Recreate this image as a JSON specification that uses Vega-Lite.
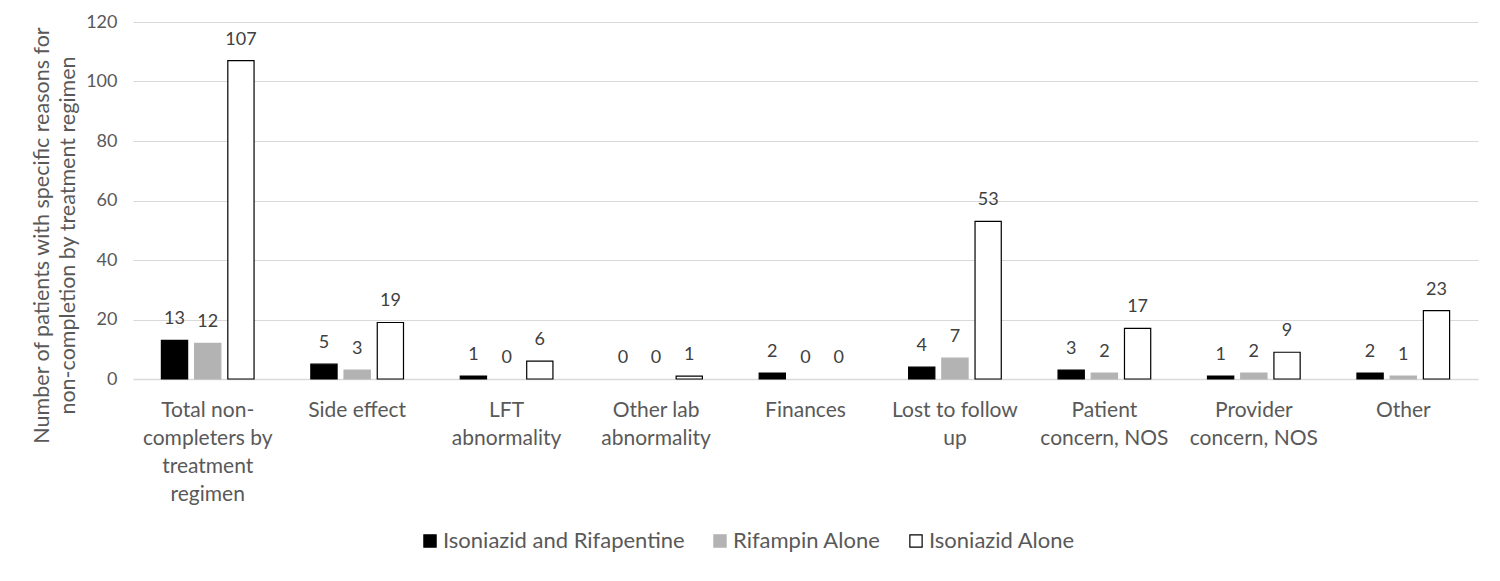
{
  "$schema": "https://vega.github.io/schema/vega-lite/v6.json",
  "autosize": {"type": "none"},
  "padding": {"left": 133, "top": 22, "right": 22, "bottom": 202},
  "width": 1345,
  "height": 357,
  "background": "white",
  "config": {
    "font": "Lato",
    "view": {"stroke": null}
  },
  "data": {
    "values": [
      {"reason": "Total non-completers by treatment regimen", "regimen": "Isoniazid and Rifapentine", "count": 13},
      {"reason": "Total non-completers by treatment regimen", "regimen": "Rifampin Alone", "count": 12},
      {"reason": "Total non-completers by treatment regimen", "regimen": "Isoniazid Alone", "count": 107},
      {"reason": "Side effect", "regimen": "Isoniazid and Rifapentine", "count": 5},
      {"reason": "Side effect", "regimen": "Rifampin Alone", "count": 3},
      {"reason": "Side effect", "regimen": "Isoniazid Alone", "count": 19},
      {"reason": "LFT abnormality", "regimen": "Isoniazid and Rifapentine", "count": 1},
      {"reason": "LFT abnormality", "regimen": "Rifampin Alone", "count": 0},
      {"reason": "LFT abnormality", "regimen": "Isoniazid Alone", "count": 6},
      {"reason": "Other lab abnormality", "regimen": "Isoniazid and Rifapentine", "count": 0},
      {"reason": "Other lab abnormality", "regimen": "Rifampin Alone", "count": 0},
      {"reason": "Other lab abnormality", "regimen": "Isoniazid Alone", "count": 1},
      {"reason": "Finances", "regimen": "Isoniazid and Rifapentine", "count": 2},
      {"reason": "Finances", "regimen": "Rifampin Alone", "count": 0},
      {"reason": "Finances", "regimen": "Isoniazid Alone", "count": 0},
      {"reason": "Lost to follow up", "regimen": "Isoniazid and Rifapentine", "count": 4},
      {"reason": "Lost to follow up", "regimen": "Rifampin Alone", "count": 7},
      {"reason": "Lost to follow up", "regimen": "Isoniazid Alone", "count": 53},
      {"reason": "Patient concern, NOS", "regimen": "Isoniazid and Rifapentine", "count": 3},
      {"reason": "Patient concern, NOS", "regimen": "Rifampin Alone", "count": 2},
      {"reason": "Patient concern, NOS", "regimen": "Isoniazid Alone", "count": 17},
      {"reason": "Provider concern, NOS", "regimen": "Isoniazid and Rifapentine", "count": 1},
      {"reason": "Provider concern, NOS", "regimen": "Rifampin Alone", "count": 2},
      {"reason": "Provider concern, NOS", "regimen": "Isoniazid Alone", "count": 9},
      {"reason": "Other", "regimen": "Isoniazid and Rifapentine", "count": 2},
      {"reason": "Other", "regimen": "Rifampin Alone", "count": 1},
      {"reason": "Other", "regimen": "Isoniazid Alone", "count": 23}
    ]
  },
  "encoding": {
    "x": {
      "field": "reason",
      "type": "nominal",
      "sort": null,
      "scale": {"paddingInner": 0.38, "paddingOuter": 0.19},
      "axis": {
        "title": null,
        "labelAngle": 0,
        "labelFontSize": 21,
        "labelColor": "#595959",
        "labelLineHeight": 28,
        "labelPadding": 20,
        "labelLimit": 200,
        "ticks": false,
        "domainColor": "#d9d9d9",
        "domainWidth": 1.5,
        "labelExpr": "datum.value == 'Total non-completers by treatment regimen' ? ['Total non-', 'completers by', 'treatment', 'regimen'] : datum.value == 'LFT abnormality' ? ['LFT', 'abnormality'] : datum.value == 'Other lab abnormality' ? ['Other lab', 'abnormality'] : datum.value == 'Lost to follow up' ? ['Lost to follow', 'up'] : datum.value == 'Patient concern, NOS' ? ['Patient', 'concern, NOS'] : datum.value == 'Provider concern, NOS' ? ['Provider', 'concern, NOS'] : datum.label"
      }
    },
    "xOffset": {
      "field": "regimen",
      "type": "nominal",
      "sort": ["Isoniazid and Rifapentine", "Rifampin Alone", "Isoniazid Alone"],
      "scale": {"paddingInner": 0.21, "paddingOuter": 0}
    }
  },
  "layer": [
    {
      "mark": {"type": "bar", "strokeWidth": 1.2},
      "encoding": {
        "y": {
          "field": "count",
          "type": "quantitative",
          "scale": {"domain": [0, 120], "nice": false},
          "axis": {
            "values": [0, 20, 40, 60, 80, 100, 120],
            "title": ["Number of patients with specific reasons for", "non-completion by treatment regimen"],
            "titleFontSize": 21.5,
            "titleFontWeight": "normal",
            "titleColor": "#595959",
            "titleLineHeight": 26,
            "titlePadding": 6,
            "titleY": 213,
            "labelFontSize": 18,
            "labelColor": "#595959",
            "labelPadding": 16,
            "ticks": false,
            "domain": false,
            "gridColor": "#d9d9d9",
            "gridWidth": 1.2
          }
        },
        "fill": {
          "field": "regimen",
          "type": "nominal",
          "sort": ["Isoniazid and Rifapentine", "Rifampin Alone", "Isoniazid Alone"],
          "scale": {"range": ["#000000", "#b3b3b3", "#ffffff"]},
          "legend": {
            "title": null,
            "orient": "none",
            "direction": "horizontal",
            "legendX": 286,
            "legendY": 508,
            "symbolType": "square",
            "symbolSize": 150,
            "symbolStrokeWidth": 1.2,
            "labelFontSize": 22,
            "labelFontWeight": "normal",
            "labelColor": "#595959",
            "labelOffset": 2,
            "columnPadding": 24,
            "labelLimit": 400,
            "encode": {
              "symbols": {
                "update": {
                  "stroke": {"signal": "datum.value == 'Rifampin Alone' ? '#b3b3b3' : '#000000'"},
                  "strokeWidth": {"value": 1.2}
                }
              }
            }
          }
        },
        "stroke": {
          "field": "regimen",
          "type": "nominal",
          "sort": ["Isoniazid and Rifapentine", "Rifampin Alone", "Isoniazid Alone"],
          "scale": {"range": ["#000000", "#b3b3b3", "#000000"]},
          "legend": null
        },
        "strokeOpacity": {
          "condition": {"test": "datum.count == 0", "value": 0},
          "value": 1
        }
      }
    },
    {
      "mark": {"type": "text", "dy": -12, "baseline": "bottom", "fontSize": 18, "color": "#404040"},
      "encoding": {
        "y": {"field": "count", "type": "quantitative"},
        "text": {"field": "count", "type": "quantitative"}
      }
    }
  ]
}
